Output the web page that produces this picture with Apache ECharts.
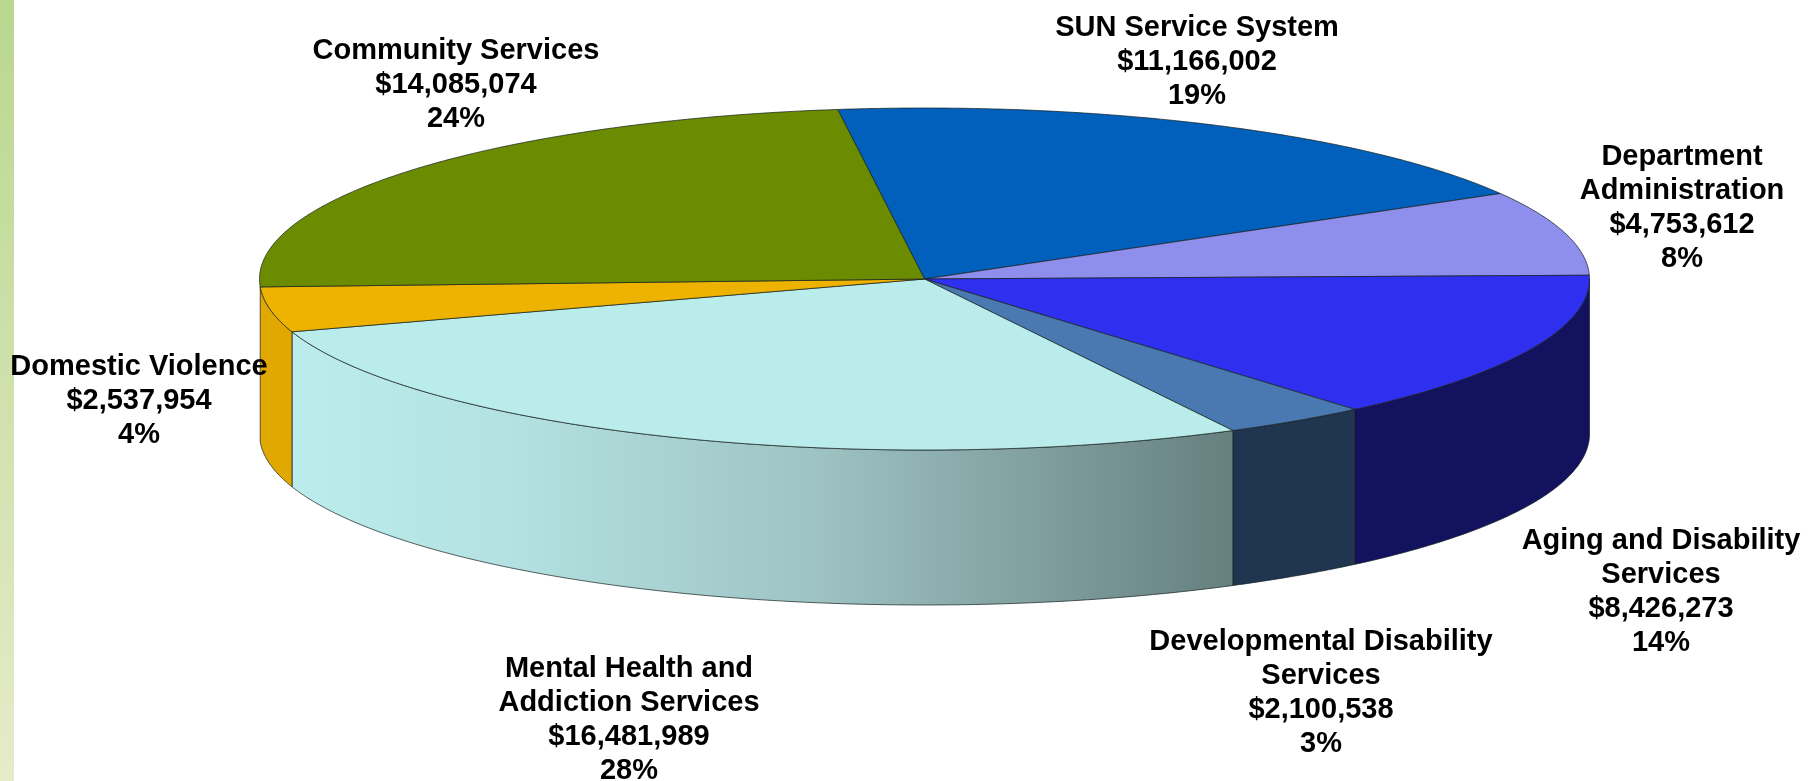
<!DOCTYPE html>
<html>
<head>
<meta charset="utf-8">
<style>html,body{margin:0;padding:0;background:#fff}#chart{width:1819px;height:781px}</style>
<script src="https://cdn.jsdelivr.net/npm/echarts@6/dist/echarts.min.js"></script>
</head>
<body>
<div id="chart"></div>
<script>
// Data, clockwise from the slice that starts just left of the top of the pie
const categories = ['SUN Service System', 'Department\nAdministration', 'Aging and Disability\nServices', 'Developmental Disability\nServices', 'Mental Health and\nAddiction Services', 'Domestic Violence', 'Community Services'];
const amounts = [11166002, 4753612, 8426273, 2100538, 16481989, 2537954, 14085074];
const percents = ['19%', '8%', '14%', '3%', '28%', '4%', '24%'];

// Styling
const topColors = ['#0260bd', '#8e8eec', '#2f2ff0', '#4a78b0', '#bbecec', '#eeb200', '#6b8c00'];
const sideColors = [null, null, '#12125f', '#20354f', 'gradient', '#e0a800', null];
const labelCenters = [[1197, 62], [1682, 208], [1661, 592], [1321, 693], [629, 720], [139, 401], [456, 85]];
const pie = { cx: 924.5, cy: 279, rx: 665, ry: 171, depth: 155, startDeg: -7.5 };

const total = amounts.reduce((a, b) => a + b, 0);
const sweep = v => v / total * 360;
const startOf = i => pie.startDeg + amounts.slice(0, i).reduce((a, v) => a + sweep(v), 0);
const rimPoint = (deg, dy) => {
  const t = deg * Math.PI / 180;
  return [pie.cx + pie.rx * Math.sin(t), pie.cy - pie.ry * Math.cos(t) + (dy || 0)];
};
const arc = (a, b, dy) => {
  const n = Math.max(2, Math.ceil(Math.abs(b - a) * 2));
  const pts = [];
  for (let k = 0; k <= n; k++) pts.push(rimPoint(a + (b - a) * k / n, dy));
  return pts;
};
const edge = 'rgba(20,30,30,0.7)';

function renderSlice(params, api) {
  const i = params.dataIndex;
  const a = startOf(i);
  const b = a + sweep(api.value(0));
  const children = [];
  const from = Math.max(a, 90), to = Math.min(b, 270);
  if (to > from && sideColors[i]) {
    const fill = sideColors[i] === 'gradient'
      ? new echarts.graphic.LinearGradient(0, 0, 1, 0, [
          { offset: 0, color: '#bcecec' },
          { offset: 0.22, color: '#b4e2e2' },
          { offset: 0.55, color: '#9fc4c4' },
          { offset: 1, color: '#667f7f' }])
      : sideColors[i];
    children.push({
      type: 'polygon', z2: 1,
      shape: { points: arc(from, to, 0).concat(arc(to, from, pie.depth)) },
      style: { fill: fill, stroke: edge, lineWidth: 1 }
    });
  }
  children.push({
    type: 'polygon', z2: 2,
    shape: { points: [[pie.cx, pie.cy]].concat(arc(a, b, 0)) },
    style: { fill: topColors[i], stroke: edge, lineWidth: 1 }
  });
  const text = categories[i] + '\n$' + api.value(0).toLocaleString('en-US') + '\n' + percents[i];
  children.push({
    type: 'text', z2: 5,
    style: {
      text: text, x: labelCenters[i][0], y: labelCenters[i][1],
      align: 'center', verticalAlign: 'middle',
      fontFamily: '"Liberation Sans", Arial, sans-serif', fontWeight: 'bold',
      fontSize: 29, lineHeight: 34, fill: '#000'
    }
  });
  return { type: 'group', children: children };
}

const chart = echarts.init(document.getElementById('chart'), null, { renderer: 'canvas' });
chart.setOption({
  animation: false,
  backgroundColor: '#ffffff',
  graphic: [{
    type: 'rect', left: 0, top: 0, silent: true,
    shape: { width: 14, height: 781 },
    style: { fill: new echarts.graphic.LinearGradient(0, 0, 0, 1, [
      { offset: 0, color: '#b9d78f' }, { offset: 1, color: '#e6ebc9' }]) }
  }],
  series: [{
    type: 'custom',
    coordinateSystem: 'none',
    silent: true,
    renderItem: renderSlice,
    data: amounts.map(v => [v])
  }]
});
</script>
</body>
</html>
